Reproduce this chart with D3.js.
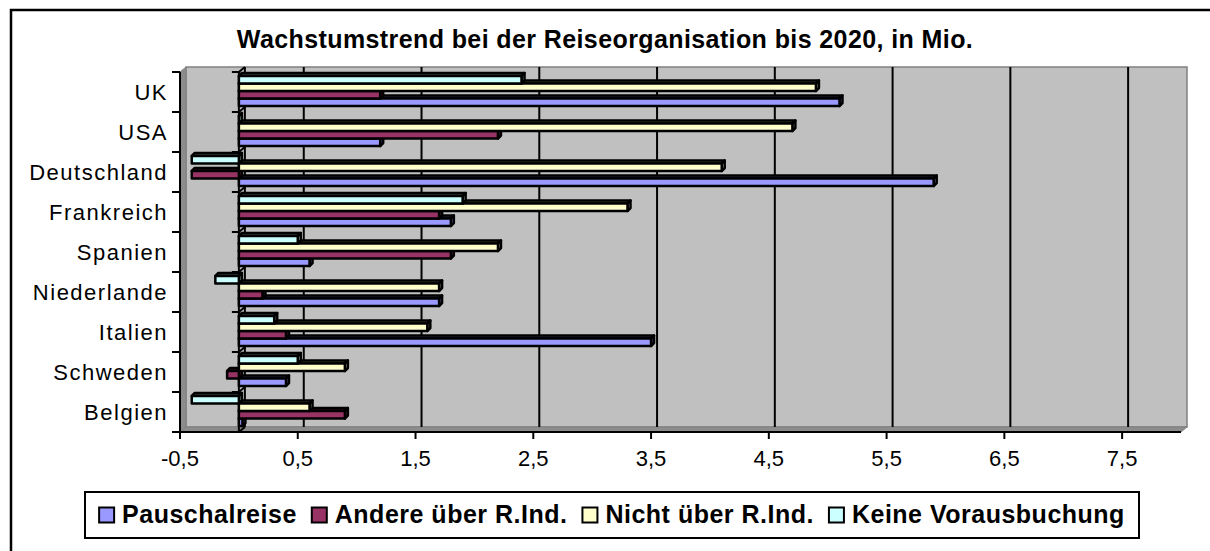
<!DOCTYPE html>
<meta charset="utf-8">
<style>
    body { margin: 0; background: #fff; }
    svg { display: block; font-family: "Liberation Sans", Arial, sans-serif; }
</style>
<svg width="1210" height="551"></svg>
<script src="https://d3js.org/d3.v7.min.js"></script>
<script>
    // categories from top to bottom, as shown
    const categories = ["UK", "USA", "Deutschland", "Frankreich", "Spanien", "Niederlande", "Italien", "Schweden", "Belgien"]
    const seriesNames = ["Pauschalreise", "Andere über R.Ind.", "Nicht über R.Ind.", "Keine Vorausbuchung"]
    const colors = ["#9999ff", "#993366", "#ffffcc", "#ccffff"]
    const pauschal = [5.1, 1.2, 5.9, 1.8, 0.6, 1.7, 3.5, 0.4, 0.03]
    const andere = [1.2, 2.2, -0.4, 1.7, 1.8, 0.2, 0.4, -0.1, 0.9]
    const nicht = [4.9, 4.7, 4.1, 3.3, 2.2, 1.7, 1.6, 0.9, 0.6]
    const keine = [2.4, 0, -0.4, 1.9, 0.5, -0.2, 0.3, 0.5, -0.4]
    const tickValues = [-0.5, 0.5, 1.5, 2.5, 3.5, 4.5, 5.5, 6.5, 7.5]
    const series = [pauschal, andere, nicht, keine]

    var svg = d3.select("svg")
    // 3D depth of the plot box and of the bars
    var DX = 6, DY = -5, bdx = 3, bdy = -3

    var x = d3.scaleLinear().domain([-0.5, 8]).range([180, 1181])
    var y = d3.scaleBand().domain(categories).range([72, 432])
    var ys = d3.scaleBand().domain([3, 2, 1, 0]).range([4, 34])
    var fmt = d => d3.format(".1f")(d).replace(".", ",").replace("\u2212", "-")

    // outer chart border
    svg.append("rect").attr("x", 11).attr("y", 10).attr("width", 1220).attr("height", 560)
        .attr("fill", "#fff").attr("stroke", "#000").attr("stroke-width", 2.5)

    svg.append("text").attr("x", 605).attr("y", 48).attr("text-anchor", "middle")
        .attr("font-size", 25).attr("font-weight", "bold").attr("letter-spacing", 0.4)
        .text("Wachstumstrend bei der Reiseorganisation bis 2020, in Mio.")

    var x0 = x.range()[0], x1 = x.range()[1], y0 = y.range()[0], y1 = y.range()[1]
    const pts = a => a.map(p => p.join(",")).join(" ")

    // walls
    svg.append("polygon")
        .attr("points", pts([[x0 + DX, y0 + DY], [x1 + DX, y0 + DY], [x1 + DX, y1 + DY], [x0 + DX, y1 + DY]]))
        .attr("fill", "#c0c0c0").attr("stroke", "#808080").attr("stroke-width", 1.5)
    svg.append("polygon")
        .attr("points", pts([[x0, y0], [x0 + DX, y0 + DY], [x0 + DX, y1 + DY], [x0, y1]]))
        .attr("fill", "#8c8c8c").attr("stroke", "#808080").attr("stroke-width", 1)
    svg.append("polygon")
        .attr("points", pts([[x0, y1], [x0 + DX, y1 + DY], [x1 + DX, y1 + DY], [x1, y1]]))
        .attr("fill", "#8c8c8c").attr("stroke", "#808080").attr("stroke-width", 1)

    // gridlines on back wall
    svg.append("g").selectAll("line").data(tickValues.slice(1)).join("line")
        .attr("x1", d => x(d) + DX).attr("x2", d => x(d) + DX)
        .attr("y1", y0 + DY).attr("y2", y1 + DY)
        .attr("stroke", "#000").attr("stroke-width", 2)

    // category axis at zero: back and front lines with ticks
    svg.append("line").attr("x1", x(0) + DX).attr("x2", x(0) + DX).attr("y1", y0 + DY).attr("y2", y1 + DY)
        .attr("stroke", "#000").attr("stroke-width", 2)
    svg.append("line").attr("x1", x(0)).attr("x2", x(0)).attr("y1", y0).attr("y2", y1)
        .attr("stroke", "#000").attr("stroke-width", 2)
    var bounds = categories.map(c => y(c)).concat([y1])
    svg.append("g").selectAll("path").data(bounds).join("path")
        .attr("d", d => `M${x(0) - 7},${d}H${x(0)}L${x(0) + DX},${d + DY}`)
        .attr("fill", "none").attr("stroke", "#000").attr("stroke-width", 2)

    // bars
    var bars = svg.append("g")
    categories.forEach(function (cat, ci) {
        series.forEach(function (vals, si) {
            var v = vals[ci]
            var a = x(Math.min(0, v)), b = x(Math.max(0, v))
            var t = y(cat) + ys(si), h = ys.bandwidth()
            var c = d3.color(colors[si])
            var g = bars.append("g").attr("stroke", "#000").attr("stroke-width", 2.5).attr("stroke-linejoin", "round")
            g.append("polygon").attr("points", pts([[a, t], [a + bdx, t + bdy], [b + bdx, t + bdy], [b, t]]))
                .attr("fill", c.darker(2.5))
            g.append("polygon").attr("points", pts([[b, t], [b + bdx, t + bdy], [b + bdx, t + h + bdy], [b, t + h]]))
                .attr("fill", c.darker(1))
            g.append("rect").attr("x", a).attr("y", t).attr("width", b - a).attr("height", h)
                .attr("fill", colors[si])
        })
    })

    // left axis
    svg.append("line").attr("x1", x0).attr("x2", x0).attr("y1", y0).attr("y2", y1)
        .attr("stroke", "#000").attr("stroke-width", 2)
    svg.append("g").selectAll("line").data(bounds).join("line")
        .attr("x1", x0 - 8).attr("x2", x0).attr("y1", d => d).attr("y2", d => d)
        .attr("stroke", "#000").attr("stroke-width", 2)
    svg.append("g").selectAll("text").data(categories).join("text")
        .attr("x", 168).attr("y", d => y(d) + y.bandwidth() / 2 + 8)
        .attr("text-anchor", "end").attr("font-size", 22).attr("letter-spacing", 1.5).text(d => d)

    // bottom axis
    svg.append("line").attr("x1", x0).attr("x2", x1).attr("y1", y1).attr("y2", y1)
        .attr("stroke", "#000").attr("stroke-width", 2)
    svg.append("g").selectAll("line").data(tickValues).join("line")
        .attr("x1", d => x(d)).attr("x2", d => x(d)).attr("y1", y1).attr("y2", y1 + 7)
        .attr("stroke", "#000").attr("stroke-width", 2)
    svg.append("g").selectAll("text").data(tickValues).join("text")
        .attr("x", d => x(d)).attr("y", 466).attr("text-anchor", "middle")
        .attr("font-size", 22).text(fmt)

    // legend
    var lg = svg.append("g")
    lg.append("rect").attr("x", 85).attr("y", 492).attr("width", 1054).attr("height", 46)
        .attr("fill", "#fff").attr("stroke", "#000").attr("stroke-width", 2)
    var items = lg.selectAll("g.item").data(seriesNames).join("g").attr("class", "item")
    items.append("rect").attr("width", 15).attr("height", 15).attr("y", 507.5)
        .attr("fill", (d, i) => colors[i]).attr("stroke", "#000").attr("stroke-width", 2)
    items.append("text").attr("x", 23).attr("y", 523).attr("font-size", 25).attr("font-weight", "bold")
        .attr("letter-spacing", 0.5).text(d => d)
    var widths = []
    items.each(function () { widths.push(23 + d3.select(this).select("text").node().getComputedTextLength()) })
    var gap = 15
    var total = d3.sum(widths) + gap * (widths.length - 1)
    var cx = 85 + (1054 - total) / 2
    items.attr("transform", function (d, i) {
        var p = cx
        cx += widths[i] + gap
        return `translate(${p},0)`
    })
</script>
